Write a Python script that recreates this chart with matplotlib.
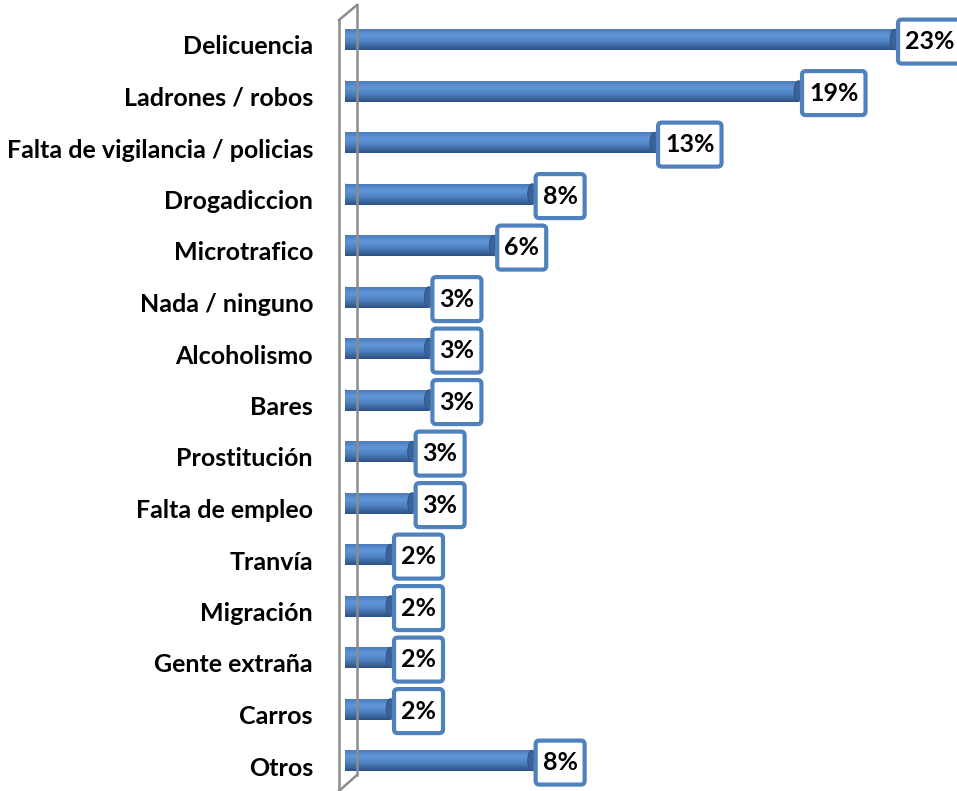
import numpy as np
import matplotlib.pyplot as plt
from matplotlib.colors import LinearSegmentedColormap
from matplotlib.patches import Rectangle, Ellipse, BoxStyle
from matplotlib.lines import Line2D

# --- datos ---
categorias = ["Delicuencia", "Ladrones / robos", "Falta de vigilancia / policias",
              "Drogadiccion", "Microtrafico", "Nada / ninguno", "Alcoholismo",
              "Bares", "Prostitución", "Falta de empleo", "Tranvía", "Migración",
              "Gente extraña", "Carros", "Otros"]
valores = [22.9, 18.9, 12.9, 7.8, 6.2, 3.5, 3.5, 3.5, 2.8, 2.8, 1.9, 1.9, 1.9, 1.9, 7.8]
etiquetas = ["23%", "19%", "13%", "8%", "6%", "3%", "3%", "3%", "3%", "3%",
             "2%", "2%", "2%", "2%", "8%"]

W, H = 957, 791
fig = plt.figure(figsize=(W / 100, H / 100), dpi=100)

# ejes: x=0 en px 345, ~24 px por punto porcentual
x0_px = 345
ppx = 24.0
left = x0_px / W
ax = fig.add_axes([left, 0, 1 - left, 1])
xmax = (W - x0_px) / ppx
y0_px = 39.5
paso = 51.5
ax.set_xlim(0, xmax)
ax.set_ylim(14 + (H - y0_px - 14 * paso) / paso, -y0_px / paso)
ax.axis("off")

grad = LinearSegmentedColormap.from_list(
    "barra", [(0, "#4a7bbd"), (0.3, "#6097d8"), (0.6, "#4f82c2"), (1, "#2d5182")])
g = np.linspace(0, 1, 64).reshape(-1, 1)


# caja de etiqueta con mas relleno vertical que horizontal
def caja(x0, y0, width, height, mutation_size):
    px = 0.28 * mutation_size
    py = 0.42 * mutation_size
    return BoxStyle.Round(pad=0, rounding_size=0.15)(
        x0 - px, y0 - py, width + 2 * px, height + 2 * py, mutation_size)


h = 21 / paso
cap_w = 9 / ppx
fuente = ["Lato", "DejaVu Sans"]
for i, v in enumerate(valores):
    rect = Rectangle((0, i - h / 2), v, h, facecolor="none", edgecolor="none")
    ax.add_patch(rect)
    im = ax.imshow(g, cmap=grad, aspect="auto", extent=[0, v, i + h / 2, i - h / 2],
                   interpolation="bilinear", zorder=2)
    im.set_clip_path(rect)
    # extremo izquierdo redondeado
    ax.add_patch(Ellipse((0, i), cap_w, h, facecolor="#4f82c2", edgecolor="none", zorder=1))
    # tapa derecha
    ax.add_patch(Ellipse((v, i), cap_w, h * 0.98, facecolor="#3a6399",
                         edgecolor="#2d5182", lw=0.6, zorder=3))
    ax.annotate(etiquetas[i], xy=(v, i), xytext=(7.5, -1.5), textcoords="offset points",
                ha="left", va="center", fontsize=18, fontweight="bold",
                family=fuente, color="black", zorder=5,
                bbox=dict(boxstyle=caja, fc="white", ec="#4f81bd", lw=3))

ax.set_xlim(0, xmax)

# etiquetas de categorias
for i, c in enumerate(categorias):
    fig.text(313 / W, 1 - (47 + i * paso) / H, c, ha="right", va="center",
             fontsize=18, fontweight="bold", family=fuente)

# pared 3D del eje
def linea(xs, ys):
    fig.add_artist(Line2D([x / W for x in xs], [1 - y / H for y in ys],
                          transform=fig.transFigure, color="#8c8c8c", lw=1.8))

linea([339, 339], [20, 791])
linea([357, 357], [5, 775])
linea([339, 357], [20, 5])
linea([357, 339], [775, 791])

fig.savefig("out.png", dpi=100)
